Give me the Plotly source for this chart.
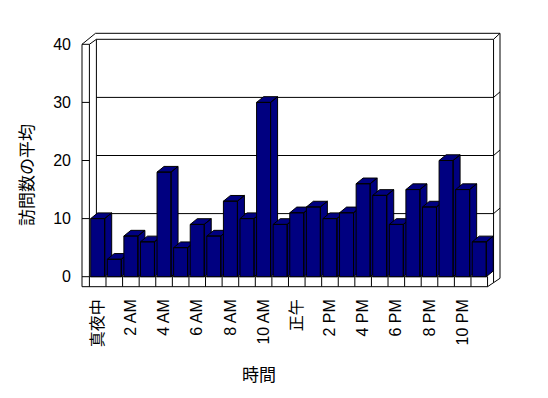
import plotly.graph_objects as go

# ---------------- data ----------------
hours = ["真夜中", "1 AM", "2 AM", "3 AM", "4 AM", "5 AM", "6 AM", "7 AM",
         "8 AM", "9 AM", "10 AM", "11 AM", "正午", "1 PM", "2 PM", "3 PM",
         "4 PM", "5 PM", "6 PM", "7 PM", "8 PM", "9 PM", "10 PM", "11 PM"]
visits = [10, 3, 7, 6, 18, 5, 9, 7, 13, 10, 30, 9,
          11, 12, 10, 11, 16, 14, 9, 15, 12, 20, 15, 6]
y_ticks = [0, 10, 20, 30, 40]
x_title = "時間"
y_title = "訪問数の平均"

# ---------------- geometry (pixel mapping, page coordinates) ----------------
OFF = 8                       # default page body margin of the html page
W, H = 548 - 2 * OFF, 398 - 2 * OFF
X0PX, XSTEP = 89.4, 16.59     # pixel of category boundary -0.5, px per category
Y0PX, YSTEP = 276.7, 5.81     # pixel of value 0, px per unit
PL, PR, PT, PB = 80, 502, 31, 289   # plot area in page pixels


def px2x(p):
    return -0.5 + (p - X0PX) / XSTEP


def px2y(p):
    return (Y0PX - p) / YSTEP


BAR_W = 14 / XSTEP
DX = 7 / XSTEP
DY = 5.7 / YSTEP
NAVY = "#000080"

fig = go.Figure()

# ---------------- 3D frame (walls / floor) ----------------
def vy(v):
    return Y0PX - v * YSTEP


n = len(hours)
xr = X0PX + n * XSTEP
segs = [
    [(82, vy(40)), (82, 286.7)],
    [(X0PX, vy(40)), (X0PX, Y0PX)],
    [(82, vy(40)), (95.5, 33.3)],
    [(X0PX, vy(40)), (96.4, 39.3)],
    [(96.4, 39.3), (xr + 6, 39.3)],
    [(95.5, 33.3), (500, 33.3)],
    [(xr + 6, 39.3), (500, 33.3)],
    [(500, 33.3), (500, 278.3)],
    [(xr + 6, 39.3), (xr + 6, 282.7)],
    [(xr, 286.7), (500, 278.3)],
    [(82, 286.7), (xr, 286.7)],
    [(X0PX, Y0PX), (xr, Y0PX)],
    [(96.4, 39.3), (96.4, Y0PX - 5.5)],
]
for k in range(n + 1):
    xp = X0PX + k * XSTEP
    segs.append([(xp, Y0PX), (xp, 286.7)])
for v in y_ticks:
    segs.append([(82, vy(v)), (X0PX, vy(v))])
for v in y_ticks[1:-1]:
    segs.append([(96.4, vy(v) - 5), (xr + 6, vy(v) - 5), (500, vy(v) - 10.5)])

fx, fy = [], []
for s in segs:
    for (a, b) in s:
        fx.append(px2x(a))
        fy.append(px2y(b))
    fx.append(None)
    fy.append(None)

fig.add_trace(go.Scatter(x=fx, y=fy, mode="lines",
                         line=dict(color="black", width=1),
                         hoverinfo="skip", showlegend=False))

# ---------------- 3D bars ----------------
for i, v in enumerate(visits):
    x1, x2 = i - BAR_W / 2, i + BAR_W / 2
    polys = [
        [(x2, 0), (x2 + DX, DY), (x2 + DX, v + DY), (x2, v), (x2, 0)],          # side
        [(x1, v), (x1 + DX, v + DY), (x2 + DX, v + DY), (x2, v), (x1, v)],      # top
        [(x1, 0), (x1, v), (x2, v), (x2, 0), (x1, 0)],                          # front
    ]
    bx, by = [], []
    for p in polys:
        for (a, b) in p:
            bx.append(a)
            by.append(b)
        bx.append(None)
        by.append(None)
    fig.add_trace(go.Scatter(x=bx, y=by, mode="lines", fill="toself",
                             fillcolor=NAVY, line=dict(color="black", width=1),
                             hoverinfo="skip", showlegend=False))

FONT = "Liberation Sans, Arial, Noto Sans CJK JP"

fig.update_layout(
    width=W, height=H,
    margin=dict(l=PL - OFF, r=(W + OFF) - PR, t=PT - OFF, b=(H + OFF) - PB, pad=0),
    paper_bgcolor="white", plot_bgcolor="rgba(0,0,0,0)",
    font=dict(family=FONT, size=16, color="black"),
    hovermode=False,
    showlegend=False,
    xaxis=dict(range=[px2x(PL), px2x(PR)], showgrid=False, zeroline=False,
               showline=False, ticks="",
               tickvals=list(range(0, n, 2)), ticktext=hours[0::2],
               tickangle=-90, ticklabelstandoff=6,
               tickfont=dict(family=FONT, size=16, color="black")),
    yaxis=dict(range=[px2y(PB), px2y(PT)], showgrid=False, zeroline=False,
               showline=False, ticks="", tickvals=y_ticks,
               ticklabelstandoff=8,
               tickfont=dict(family=FONT, size=16, color="black")),
    annotations=[
        dict(text=x_title, xref="paper", yref="paper",
             x=(259 - PL) / (PR - PL), y=(PB - 375) / (PB - PT),
             xanchor="center", yanchor="middle", showarrow=False,
             font=dict(family=FONT, size=17, color="black")),
        dict(text=y_title, xref="paper", yref="paper",
             x=(27 - PL) / (PR - PL), y=(PB - 175) / (PB - PT),
             xanchor="center", yanchor="middle", showarrow=False,
             textangle=-90,
             font=dict(family=FONT, size=17, color="black")),
    ],
)

fig.write_html("out.html")
